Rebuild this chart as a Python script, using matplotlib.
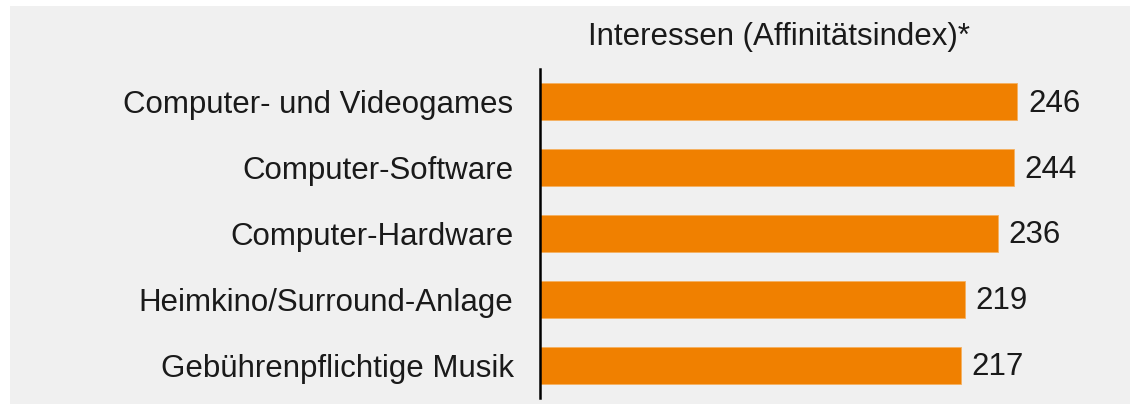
import matplotlib
matplotlib.use("Agg")
import matplotlib.pyplot as plt
from matplotlib.patches import Rectangle

categories = ["Computer- und Videogames", "Computer-Software", "Computer-Hardware",
              "Heimkino/Surround-Anlage", "Gebührenpflichtige Musik"]
values = [246, 244, 236, 219, 217]
title = "Interessen (Affinitätsindex)*"

ORANGE = "#f08000"
BG = "#f0f0f0"
TXT = "#1a1a1a"
FS = 22.5

plt.rcParams["font.family"] = ["Liberation Sans", "DejaVu Sans"]

fig = plt.figure(figsize=(11.3, 4.04), dpi=100)
fig.patches.append(Rectangle((10 / 1130, 0), 1, 1 - 6 / 404, transform=fig.transFigure,
                             facecolor=BG, edgecolor="none", zorder=-10))

ax = fig.add_axes([540 / 1130, 6 / 404, 1 - 540 / 1130, 329 / 404])
ax.set_facecolor("none")
ypos = list(range(len(categories)))
ax.barh(ypos, values, height=0.565, color=ORANGE, edgecolor="#f5b060", linewidth=0.6)
for y, v in zip(ypos, values):
    ax.text(v + 5.5, y + 0.03, str(v), va="center", ha="left", fontsize=FS, color=TXT)

ax.set_xlim(0, 304)
ax.set_ylim(4.5, -0.5)
ax.set_yticks(ypos)
ax.set_yticklabels(categories, fontsize=FS, color=TXT)
ax.tick_params(axis="y", length=0, pad=19)
ax.set_xticks([])
for s in ["top", "right", "bottom"]:
    ax.spines[s].set_visible(False)
ax.spines["left"].set_linewidth(1.8)
ax.spines["left"].set_color("black")

fig.text(779 / 1130, 1 - 37 / 404, title, ha="center", va="center", fontsize=FS, color=TXT)

fig.savefig("out.png", dpi=100)
